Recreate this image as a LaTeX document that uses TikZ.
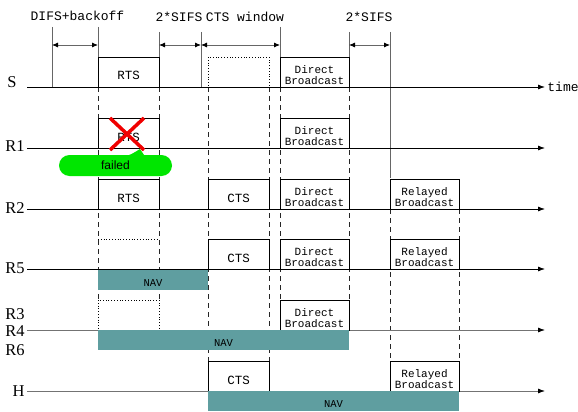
\documentclass[tikz,border=0pt]{standalone}
\usepackage{fontspec}
\setmainfont{Liberation Serif}
\setmonofont{Liberation Mono}
\newfontfamily\helvfont{Liberation Sans}
\usepackage{tikz}
\usetikzlibrary{arrows.meta, shapes.misc}
\definecolor{navteal}{RGB}{95,158,160}
\definecolor{failgreen}{RGB}{0,230,0}
\definecolor{crossred}{RGB}{240,0,0}

\begin{document}
\begin{tikzpicture}[x=1pt, y=-1pt, line width=0.8pt,
  pkt/.style={draw, fill=white, inner sep=0pt, outer sep=0pt, minimum width=61pt, minimum height=30pt,
    text height=16pt, text depth=0pt, font=\ttfamily\fontsize{12.5}{12.5}\selectfont},
  bcast/.style={pkt, minimum width=69pt, align=center, text height=25pt, text depth=0pt,
    font=\ttfamily\fontsize{11}{11}\selectfont},
  nav/.style={fill=navteal, inner sep=0pt, outer sep=0pt, minimum height=20pt,
    text height=13pt, text depth=0pt, font=\ttfamily\fontsize{10.5}{10.5}\selectfont},
  rowlbl/.style={anchor=east, inner sep=0pt, font=\fontsize{16.5}{16.5}\selectfont},
  toplbl/.style={inner sep=0pt, font=\ttfamily\fontsize{13}{13}\selectfont},
  tline/.style={-{Latex[length=7pt, width=5pt]}},
  span/.style={black!60, {Latex[length=6pt, width=5pt, black]}-{Latex[length=6pt, width=5pt, black]}},
  tick/.style={black!60},
  guide/.style={black!85, dash pattern=on 5pt off 4pt}
]
\useasboundingbox (0,0) rectangle (578,412);

% dashed guides down through the stations
\draw[guide] (98,87) -- (98,300);
\draw[guide] (159,87) -- (159,300);
\draw[guide] (208,87) -- (208,361);
\draw[guide] (269,87) -- (269,361);
\draw[guide] (280,87) -- (280,300);
\draw[guide] (349,87) -- (349,300);
\draw[guide] (390,209) -- (390,361);
\draw[guide] (459,209) -- (459,361);

% ticks above the sender line
\draw[tick] (52,27) -- (52,87);
\draw[tick] (98,27) -- (98,57);
\draw[tick] (159,32) -- (159,57);
\draw[tick] (201,32) -- (201,87);
\draw[tick] (280,27) -- (280,57);
\draw[tick] (349,32) -- (349,57);
\draw[tick] (390,32) -- (390,178);

\coordinate (m1) at (52,45);
\coordinate (m2) at (98,45);
\coordinate (m3) at (159,45);
\coordinate (m4) at (201,45);
\coordinate (m5) at (280,45);
\coordinate (m6) at (349,45);
\coordinate (m7) at (390,45);
\draw[span] (m1) -- (m2);
\draw[span] (m3) -- (m4);
\draw[span] (m4) -- (m5);
\draw[span] (m6) -- (m7);

\node[toplbl] (difs) at (77.5,16) {DIFS+backoff};
\node[toplbl] (sifs1) at (179,17) {2*SIFS};
\node[toplbl] (ctsw) at (245,17) {CTS window};
\node[toplbl] (sifs2) at (369,17) {2*SIFS};

% time lines
\node[rowlbl] (lS) at (17,82) {S};
\node[rowlbl] (lR1) at (25,146) {R1};
\node[rowlbl] (lR2) at (25,208) {R2};
\node[rowlbl] (lR5) at (25,268) {R5};
\node[rowlbl] (lR3) at (25,314) {R3};
\node[rowlbl] (lR4) at (25,331) {R4};
\node[rowlbl] (lR6) at (25,350) {R6};
\node[rowlbl] (lH) at (25,391) {H};

\coordinate (s0) at (27,87);   \coordinate (s1) at (545,87);
\coordinate (r10) at (27,148); \coordinate (r11) at (545,148);
\coordinate (r20) at (27,209); \coordinate (r21) at (545,209);
\coordinate (r50) at (27,269); \coordinate (r51) at (545,269);
\coordinate (r40) at (27,330); \coordinate (r41) at (545,330);
\coordinate (h0) at (27,391);  \coordinate (h1) at (545,391);
\draw[tline] (s0) -- (s1);
\draw[tline] (r10) -- (r11);
\draw[tline] (r20) -- (r21);
\draw[tline] (r50) -- (r51);
\draw[tline, black!55, -{Latex[length=7pt, width=5pt, black]}] (r40) -- (r41);
\draw[tline, black!55, -{Latex[length=7pt, width=5pt, black]}] (h0) -- (h1);
\node[anchor=west, inner sep=0pt, font=\ttfamily\fontsize{13}{13}\selectfont] (time) at (547,87) {time};

% frames
\node[pkt] (sRTS) at (128.5,72) {RTS};
\draw[dotted] (208,57) rectangle (269,87);
\node[bcast] (sDB) at (314.5,72) {Direct\\Broadcast};

\node[pkt] (r1RTS) at (128.5,133) {RTS};
\node[bcast] (r1DB) at (314.5,133) {Direct\\Broadcast};

\node[pkt] (r2RTS) at (128.5,194) {RTS};
\node[pkt] (r2CTS) at (238.5,194) {CTS};
\node[bcast] (r2DB) at (314.5,194) {Direct\\Broadcast};
\node[bcast] (r2RB) at (424.5,194) {Relayed\\Broadcast};

\draw[dotted] (98,239) -- (159,239);
\node[pkt] (r5CTS) at (238.5,254) {CTS};
\node[bcast] (r5DB) at (314.5,254) {Direct\\Broadcast};
\node[bcast] (r5RB) at (424.5,254) {Relayed\\Broadcast};

\draw[dotted] (98,300) rectangle (159,330);
\node[bcast] (r4DB) at (314.5,315) {Direct\\Broadcast};

\node[pkt] (hCTS) at (238.5,376) {CTS};
\node[bcast] (hRB) at (424.5,376) {Relayed\\Broadcast};

% NAV periods
\node[nav, minimum width=110pt] (nav5) at (153,279.5) {NAV};
\node[nav, minimum width=251pt] (nav4) at (223.5,340) {NAV};
\node[nav, minimum width=251pt] (navH) at (333.5,401) {NAV};

% failed RTS at R1
\coordinate (tip) at (140,149);
\fill[failgreen] (124,157) .. controls (132,154) .. (tip) -- (146,158) -- cycle;
\node[rounded rectangle, fill=failgreen, minimum width=113pt, minimum height=21pt, inner sep=0pt,
  font=\helvfont\fontsize{12}{12}\selectfont] (failed) at (115.5,165.5) {failed};
\draw[crossred, line width=3.5pt] (110,118) -- (144,150);
\draw[crossred, line width=3.5pt] (144,118) -- (110,150);
\end{tikzpicture}
\end{document}
